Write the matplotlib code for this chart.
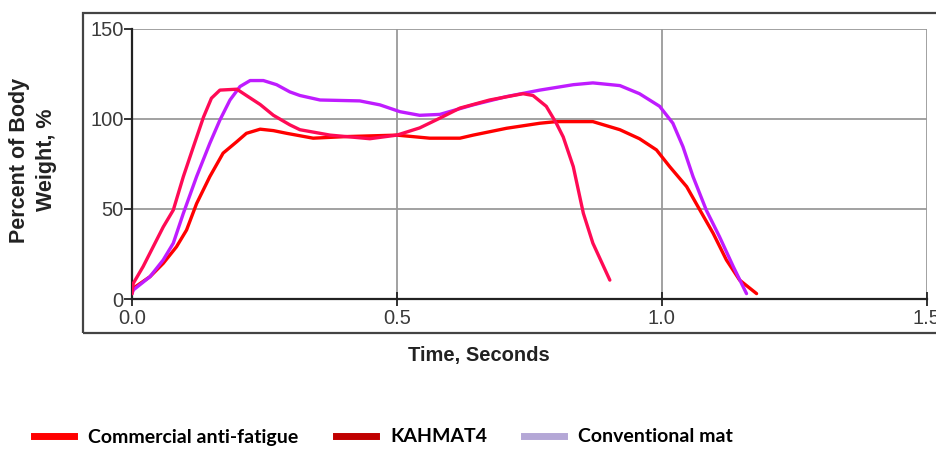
import numpy as np
import matplotlib
matplotlib.use("Agg")
import matplotlib.pyplot as plt
from matplotlib.lines import Line2D
from matplotlib.patches import Rectangle

# data
t_red = [0, 0.0025, 0.034, 0.059, 0.084, 0.103, 0.122, 0.147, 0.172, 0.198, 0.216, 0.242,
         0.267, 0.292, 0.342, 0.405, 0.5, 0.562, 0.619, 0.644, 0.707, 0.77, 0.801, 0.87,
         0.921, 0.958, 0.99, 1.015, 1.047, 1.072, 1.097, 1.122, 1.147, 1.179]
v_red = [3, 6, 12.4, 19.8, 29, 38.3, 53, 68, 81, 87.4, 92, 94.3,
         93.5, 92, 89.3, 90.2, 91, 89.3, 89.3, 91, 94.8, 97.6, 98.5, 98.5,
         94, 89, 82.8, 73.5, 62.4, 49.4, 36.5, 21.7, 10.5, 3]

t_pink = [0, 0.0025, 0.021, 0.040, 0.059, 0.078, 0.097, 0.116, 0.135, 0.150, 0.166, 0.198,
          0.216, 0.242, 0.267, 0.298, 0.317, 0.374, 0.449, 0.5, 0.543, 0.581, 0.619, 0.675,
          0.738, 0.757, 0.782, 0.801, 0.814, 0.833, 0.852, 0.870, 0.902]
v_pink = [3, 8.7, 18, 29, 40, 49.4, 68, 84.6, 101, 111.5, 116, 116.5,
          113, 108, 102, 96.7, 94, 91, 89, 91, 95, 100.4, 106, 110.5,
          114, 113, 107, 97.6, 90, 73.5, 47.6, 31, 10.5]

t_purple = [0, 0.0025, 0.034, 0.059, 0.078, 0.097, 0.122, 0.147, 0.166, 0.185, 0.204, 0.223,
            0.248, 0.273, 0.298, 0.317, 0.355, 0.430, 0.468, 0.506, 0.543, 0.581, 0.644,
            0.707, 0.770, 0.833, 0.870, 0.921, 0.958, 0.996, 1.021, 1.040, 1.059, 1.084,
            1.109, 1.135, 1.160]
v_purple = [3, 5, 12.4, 21.7, 31, 47.6, 68, 86.5, 99.4, 110.5, 118, 121.3,
            121.3, 119, 115, 113, 110.5, 110, 107.8, 104, 102, 102.5, 107.8,
            112.4, 116, 119, 120, 118.5, 114, 107, 97.6, 84.6, 68, 49.4,
            34.6, 18, 3]

legend_labels = ["Commercial anti-fatigue", "KAHMAT4", "Conventional mat"]
legend_colors = ["#ff0000", "#c00000", "#b4a7d6"]

x_ticks = [0.0, 0.5, 1.0, 1.5]
y_ticks = [0, 50, 100, 150]

fig = plt.figure(figsize=(9.36, 4.51), dpi=100)
ax = fig.add_axes([0.141, 0.337, 0.849, 0.599])

# outer frame around the chart (cut off on the right)
fig.patches.append(Rectangle((0.0887, 0.262), 0.95, 0.709, transform=fig.transFigure,
                             fill=False, edgecolor="#444444", linewidth=1.6, clip_on=False))

ax.plot(t_red, v_red, color="#ff0000", lw=2.4, solid_capstyle="round", zorder=3)
ax.plot(t_purple, v_purple, color="#bf1cff", lw=2.4, solid_capstyle="round", zorder=3)
ax.plot(t_pink, v_pink, color="#ff0a55", lw=2.4, solid_capstyle="round", zorder=4)

ax.set_xlim(0, 1.5)
ax.set_ylim(0, 150)
ax.set_xticks(x_ticks)
ax.set_xticklabels(["%.1f" % v for v in x_ticks])
ax.set_yticks(y_ticks)
ax.grid(True, color="#9a9a9a", lw=1.3)
ax.set_axisbelow(True)
for s in ["top", "right"]:
    ax.spines[s].set_visible(False)
for s in ["left", "bottom"]:
    ax.spines[s].set_color("#222222")
    ax.spines[s].set_linewidth(1.6)
ax.tick_params(axis="x", direction="inout", length=10, width=1.3, color="#222222",
               labelsize=14.5, labelcolor="#3a3a3a", pad=2)
ax.tick_params(axis="y", direction="out", length=6, width=1.3, color="#222222",
               labelsize=14.5, labelcolor="#3a3a3a", pad=0)
for lab in ax.get_xticklabels() + ax.get_yticklabels():
    lab.set_family("Liberation Sans")

fig.text(33 / 936, 1 - 160 / 451, "Percent of Body\nWeight, %", rotation=90, ha="center",
         va="center", fontsize=15.5, fontweight="bold", family="Liberation Sans",
         color="#222222", linespacing=1.4)
fig.text(479 / 936, 1 - 356 / 451, "Time, Seconds", ha="center", va="center", fontsize=14.5,
         fontweight="bold", family="Liberation Sans", color="#222222")

handles = [Line2D([], [], color=c, lw=5) for c in legend_colors]
fig.legend(handles, legend_labels, loc="center left", bbox_to_anchor=(34 / 936, 1 - 437 / 451),
           ncol=3, frameon=False, prop={"family": "Lato", "weight": "bold", "size": 14},
           handlelength=2.05, columnspacing=1.9, handletextpad=0.75, borderpad=0,
           borderaxespad=0)

fig.savefig("out.png", dpi=100)
